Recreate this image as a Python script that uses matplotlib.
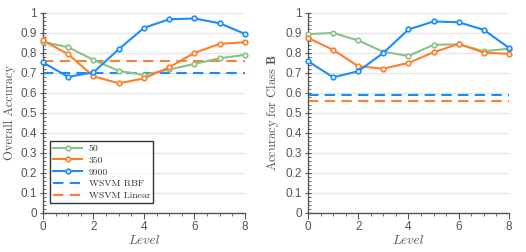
import matplotlib
matplotlib.use("Agg")
import matplotlib.pyplot as plt
from matplotlib.ticker import MultipleLocator, FuncFormatter

plt.rcParams["mathtext.fontset"] = "cm"

levels = [0, 1, 2, 3, 4, 5, 6, 7, 8]

overall_50 = [0.855, 0.828, 0.765, 0.710, 0.690, 0.717, 0.745, 0.773, 0.790]
overall_350 = [0.862, 0.793, 0.683, 0.648, 0.672, 0.728, 0.800, 0.845, 0.853]
overall_9900 = [0.752, 0.680, 0.703, 0.818, 0.925, 0.968, 0.972, 0.948, 0.895]
overall_rbf = 0.70
overall_linear = 0.758

classb_50 = [0.893, 0.900, 0.862, 0.805, 0.785, 0.840, 0.843, 0.808, 0.821]
classb_350 = [0.875, 0.815, 0.733, 0.721, 0.750, 0.803, 0.845, 0.801, 0.795]
classb_9900 = [0.758, 0.678, 0.708, 0.800, 0.917, 0.957, 0.953, 0.915, 0.825]
classb_rbf = 0.591
classb_linear = 0.558

series_labels = ["50", "350", "9900", "WSVM RBF", "WSVM Linear"]

c_green = "#8dc088"
c_orange = "#ff7f2a"
c_blue = "#1a8cff"

fig = plt.figure(figsize=(5.26, 2.52), dpi=100)
ax1 = fig.add_axes([0.0817, 0.155, 0.384, 0.794])
ax2 = fig.add_axes([0.5856, 0.155, 0.382, 0.794])


def style(ax, ylabel):
    ax.set_xlim(0, 8)
    ax.set_ylim(0, 1)
    ax.xaxis.set_major_locator(MultipleLocator(2))
    ax.xaxis.set_minor_locator(MultipleLocator(0.5))
    ax.yaxis.set_major_locator(MultipleLocator(0.1))
    ax.yaxis.set_minor_locator(MultipleLocator(0.02))
    ax.yaxis.set_major_formatter(FuncFormatter(lambda v, p: "%g" % round(v, 2)))
    for s in ["top", "right"]:
        ax.spines[s].set_visible(False)
    for s in ["left", "bottom"]:
        ax.spines[s].set_color("#555555")
        ax.spines[s].set_linewidth(1.0)
    ax.grid(axis="y", color="#e6e6e6", linewidth=1.0)
    ax.set_axisbelow(True)
    ax.tick_params(axis="y", which="major", direction="inout", length=5, width=0.8,
                   color="#555555", labelsize=8.5, labelcolor="#555555", pad=2)
    ax.tick_params(axis="y", which="minor", direction="in", length=2, width=0.6, color="#555555")
    ax.tick_params(axis="x", which="major", direction="out", length=4, width=0.8,
                   color="#555555", labelsize=8.5, labelcolor="#555555", pad=2)
    ax.tick_params(axis="x", which="minor", direction="out", length=2.5, width=0.6, color="#555555")
    for lab in ax.get_xticklabels() + ax.get_yticklabels():
        lab.set_fontfamily("Liberation Sans")
    ax.set_xlabel("Level", fontfamily="cmmi10", fontsize=9.5, color="#555555", labelpad=1)
    ax.set_ylabel(ylabel, fontfamily="cmr10", fontsize=9, color="#555555", labelpad=3)


mk = dict(marker="o", markersize=3.3, markerfacecolor="white", markeredgewidth=1.2, linewidth=1.5)

for ax, d50, d350, d9900, rbf, lin in [
    (ax1, overall_50, overall_350, overall_9900, overall_rbf, overall_linear),
    (ax2, classb_50, classb_350, classb_9900, classb_rbf, classb_linear),
]:
    ax.plot(levels, d50, color=c_green, label=series_labels[0], clip_on=False, zorder=3, **mk)
    ax.plot(levels, d350, color=c_orange, label=series_labels[1], clip_on=False, zorder=4, **mk)
    ax.plot(levels, d9900, color=c_blue, label=series_labels[2], clip_on=False, zorder=5, **mk)
    ax.axhline(rbf, color=c_blue, linestyle=(0, (5, 3)), linewidth=1.5, label=series_labels[3], zorder=2)
    ax.axhline(lin, color=c_orange, linestyle=(0, (5, 3)), linewidth=1.5, label=series_labels[4], zorder=2)

style(ax1, "Overall Accuracy")
style(ax2, r"Accuracy for Class $\mathbf{B}$")

leg = ax1.legend(loc="lower left", bbox_to_anchor=(0.035, 0.05), frameon=True, fancybox=False,
                 edgecolor="black", prop={"family": "cmr10", "size": 7}, handlelength=3.0,
                 borderpad=0.3, labelspacing=0.3, handletextpad=0.7, borderaxespad=0)
leg.get_frame().set_linewidth(1.0)
for t in leg.get_texts():
    t.set_color("#333333")

fig.savefig("out.png", dpi=100)
